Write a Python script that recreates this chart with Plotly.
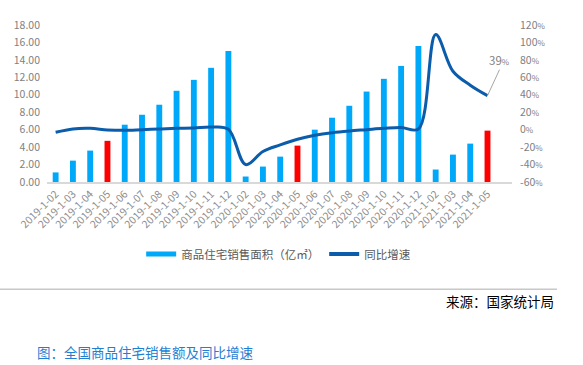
import plotly.graph_objects as go

categories = [
    "2019-1-02", "2019-1-03", "2019-1-04", "2019-1-05", "2019-1-06", "2019-1-07",
    "2019-1-08", "2019-1-09", "2019-1-10", "2019-1-11", "2019-1-12",
    "2020-1-02", "2020-1-03", "2020-1-04", "2020-1-05", "2020-1-06", "2020-1-07",
    "2020-1-08", "2020-1-09", "2020-1-10", "2020-1-11", "2020-1-12",
    "2021-1-02", "2021-1-03", "2021-1-04", "2021-1-05",
]
sales_area = [
    1.10, 2.45, 3.60, 4.72, 6.57, 7.71, 8.86, 10.46, 11.71, 13.09, 15.03,
    0.63, 1.77, 2.91, 4.17, 6.00, 7.37, 8.74, 10.37, 11.83, 13.31, 15.60,
    1.43, 3.14, 4.40, 5.89,
]
yoy_growth = [
    -3.0, 0.8, 1.5, -0.3, -0.8, 0.0, 0.8, 1.5, 1.9, 3.0, 0.5,
    -40.0, -25.0, -17.5, -11.0, -6.5, -3.5, -1.5, 0.0, 1.5, 2.5, 0.8,
    109.0, 67.0, 51.0, 39.0,
]
highlight = {"2019-1-05", "2020-1-05", "2021-1-05"}
left_ticks = [0, 2, 4, 6, 8, 10, 12, 14, 16, 18]
right_ticks = [-60, -40, -20, 0, 20, 40, 60, 80, 100, 120]

BAR_BLUE = "#00A8FA"
RED = "#FF0000"
LINE_BLUE = "#0B5CAB"
GRAY = "#7F7F7F"
FONT = "Noto Sans CJK SC"

bar_colors = [RED if c in highlight else BAR_BLUE for c in categories]

fig = go.Figure()
fig.add_trace(go.Bar(
    x=categories, y=sales_area, marker_color=bar_colors, marker_line_width=0,
    showlegend=False, yaxis="y", hoverinfo="skip",
))
fig.add_trace(go.Scatter(
    x=categories, y=yoy_growth, mode="lines", yaxis="y2",
    line=dict(color=LINE_BLUE, width=3, shape="spline", smoothing=1.0),
    showlegend=False,
))
# legend entries
fig.add_trace(go.Scatter(
    x=[None], y=[None], mode="lines", name="商品住宅销售面积（亿㎡）",
    line=dict(color=BAR_BLUE, width=5),
))
fig.add_trace(go.Scatter(
    x=[None], y=[None], mode="lines", name="同比增速", yaxis="y2",
    line=dict(color=LINE_BLUE, width=4),
))

L, R, T, B = 47, 71, 25, 182.5
W, H = 583, 365
pw, ph = W - L - R, H - T - B

def px_to_paper_x(px):
    return (px - L) / pw

def px_to_paper_y(py):
    return (H - B - py) / ph

fig.update_layout(
    width=W, height=H,
    template="none",
    margin=dict(l=L, r=R, t=T, b=B, pad=0),
    paper_bgcolor="white", plot_bgcolor="white",
    font=dict(family=FONT, color=GRAY, size=10.5),
    bargap=0.66,
    xaxis=dict(
        type="category", tickangle=-45, showgrid=False, zeroline=False,
        showline=True, linecolor="#D9D9D9", linewidth=1.5, ticks="",
        tickfont=dict(size=10.5, color="#8C8C8C"), automargin=False,
    ),
    yaxis=dict(
        range=[0, 18], tickvals=left_ticks, tickformat=".2f", showgrid=False,
        zeroline=False, showline=False, ticks="", automargin=False,
        tickfont=dict(size=10.5, color=GRAY), ticklabelstandoff=6,
    ),
    yaxis2=dict(
        range=[-60, 120], overlaying="y", side="right", tickvals=right_ticks,
        ticktext=[f"{v}<span style='font-size:8px'>%</span>" for v in right_ticks],
        showgrid=False, zeroline=False, showline=False, ticks="",
        automargin=False, tickfont=dict(size=10.5, color=GRAY), ticklabelstandoff=7,
    ),
    legend=dict(
        orientation="h", xref="container", yref="container",
        x=0.478, y=1 - 254 / H, xanchor="center", yanchor="middle",
        font=dict(size=11.5, color="#595959"), itemwidth=30,
        bgcolor="rgba(0,0,0,0)", tracegroupgap=0, entrywidth=0,
    ),
    showlegend=True,
)

fig.add_annotation(
    x=categories[-1], y=yoy_growth[-1], xref="x", yref="y2",
    text="39<span style='font-size:8px'>%</span>", showarrow=True,
    arrowhead=0, arrowwidth=1, arrowcolor="#A6A6A6", ax=12, ay=-26,
    font=dict(size=11.5, color=GRAY), yanchor="bottom", xanchor="center",
)

fig.add_shape(
    type="line", xref="paper", yref="paper",
    x0=px_to_paper_x(0), x1=px_to_paper_x(557),
    y0=px_to_paper_y(290), y1=px_to_paper_y(290),
    line=dict(color="#C8C8C8", width=1.5),
)
fig.add_annotation(
    x=px_to_paper_x(556), y=px_to_paper_y(302), xref="paper", yref="paper",
    text="来源：国家统计局", showarrow=False, xanchor="right", yanchor="middle",
    font=dict(size=13.5, color="#000000", family=FONT),
)
fig.add_annotation(
    x=px_to_paper_x(35), y=px_to_paper_y(353), xref="paper", yref="paper",
    text="图：全国商品住宅销售额及同比增速", showarrow=False, xanchor="left",
    yanchor="middle", font=dict(size=13.5, color="#1F80D2", family=FONT),
)

fig.write_html(
    "out.html",
    config={"displayModeBar": False},
    post_script="document.body.style.margin='0';document.body.style.overflow='hidden';",
)
